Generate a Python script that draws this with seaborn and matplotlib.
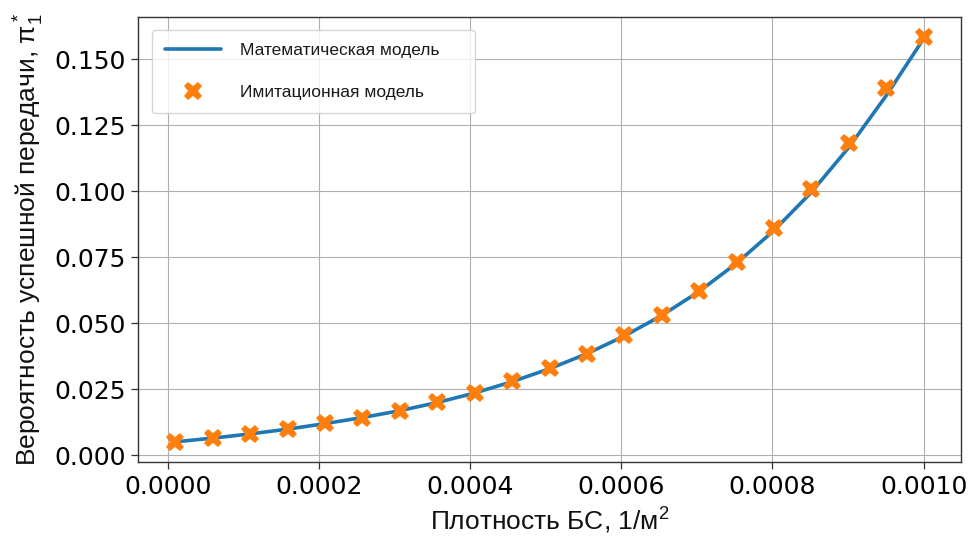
import numpy as np
import pandas as pd
import seaborn as sns
import matplotlib
matplotlib.use("Agg")
import matplotlib.pyplot as plt

# Base station density, 1/m^2
density = np.linspace(1e-5, 1e-3, 21)

# Analytical model: probability of successful transmission
model_prob = [0.0050, 0.0064, 0.0080, 0.0098, 0.0119, 0.0142, 0.0168, 0.0199,
              0.0235, 0.0278, 0.0327, 0.0384, 0.0451, 0.0529, 0.0620, 0.0727,
              0.0851, 0.0996, 0.1166, 0.1362, 0.1578]

# Simulation results
sim_prob = [0.0050, 0.0063, 0.0080, 0.0098, 0.0120, 0.0141, 0.0167, 0.0201,
            0.0235, 0.0280, 0.0328, 0.0384, 0.0453, 0.0532, 0.0623, 0.0730,
            0.0859, 0.1008, 0.1184, 0.1391, 0.1583]

y_ticks = [0.000, 0.025, 0.050, 0.075, 0.100, 0.125, 0.150]
x_ticks = [0.0000, 0.0002, 0.0004, 0.0006, 0.0008, 0.0010]

df_model = pd.DataFrame({"x": density, "y": model_prob})
df_sim = pd.DataFrame({"x": density, "y": sim_prob})

sns.set_theme(style="ticks")
plt.rcParams["font.family"] = ["DejaVu Sans"]
plt.rcParams["mathtext.default"] = "regular"

fig = plt.figure(figsize=(9.73, 5.36), dpi=100)
ax = fig.add_axes([0.1418, 0.138, 0.8459, 0.830])

sns.lineplot(data=df_model, x="x", y="y", ax=ax, color="#1f77b4",
             linewidth=2.6, label="Математическая модель", zorder=2)
sns.lineplot(data=df_sim, x="x", y="y", ax=ax, color="#ff7f0e",
             linestyle="", marker="X", markersize=13, markeredgewidth=0,
             label="Имитационная модель", zorder=3)

ax.set_xticks(x_ticks)
ax.set_yticks(y_ticks)
ax.set_xticklabels([f"{v:.4f}" for v in x_ticks])
ax.set_yticklabels([f"{v:.3f}" for v in y_ticks])
ax.tick_params(axis="both", labelsize=18, length=5, width=0.9,
               color="#333333", labelcolor="black", pad=4)
ax.margins(x=0.05, y=0.05)

ax.grid(True, color="#b0b0b0", linewidth=0.8)
for s in ax.spines.values():
    s.set_color("#333333")
    s.set_linewidth(1.0)

ax.set_xlabel("Плотность БС, 1/м$^2$", fontsize=19, color="#111111",
              family=["Liberation Sans", "DejaVu Sans"], labelpad=5)
ax.set_ylabel(r"Вероятность успешной передачи, $\pi^*_1$", fontsize=19,
              color="#111111", family=["Liberation Sans", "DejaVu Sans"],
              labelpad=6)

leg = ax.legend(loc="upper left", bbox_to_anchor=(0.017, 0.5, 0.3925, 0.471),
                mode="expand", borderaxespad=0,
                prop={"family": "Liberation Sans", "size": 12.5},
                handlelength=3.2, handletextpad=1.1, labelspacing=1.55,
                borderpad=0.75, framealpha=0.8,
                fancybox=True, edgecolor="#cccccc")
for t in leg.get_texts():
    t.set_color("#1a1a1a")

fig.savefig("out.png", dpi=100)
